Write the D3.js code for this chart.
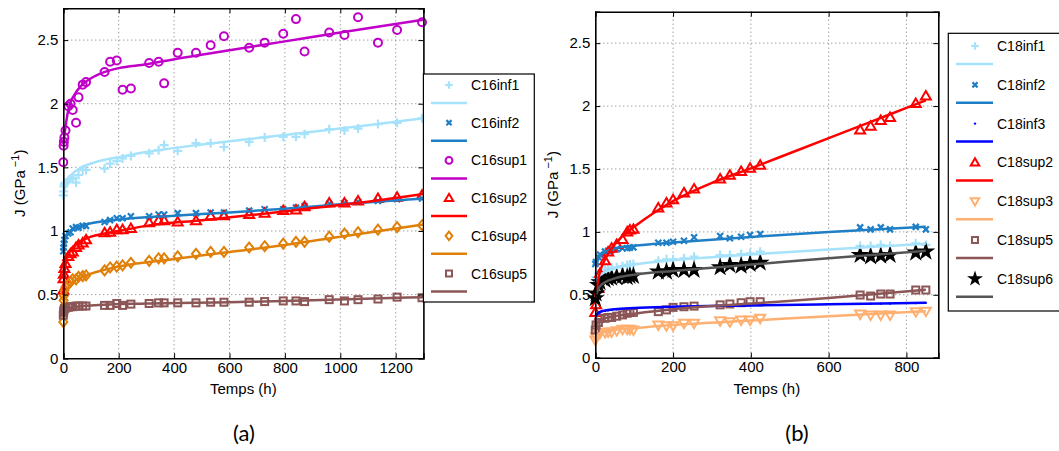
<!DOCTYPE html>
<html><head><meta charset="utf-8">
<script src="https://cdn.jsdelivr.net/npm/d3@7"></script>
<style>body{margin:0;background:#fff}svg{display:block}text{font-family:"Liberation Sans",Arial,sans-serif}</style>
</head><body><svg id="c" width="1059" height="451"></svg>
<script>
// ---------- data : panel (a) ----------
const timesA = [0,1,2,4,8,18,26,34,46,55,70,82,149,169,193,214,244,310,344,364,413,479,532,580,671,727,794,840,871,960,1015,1064,1136,1205,1295];
const C16inf1 = [1.28,1.31,1.35,1.37,1.38,1.40,1.41,1.42,1.38,1.44,1.48,1.48,1.49,1.53,1.55,1.57,1.59,1.61,1.635,1.675,1.63,1.69,1.69,1.66,1.70,1.735,1.74,1.74,1.76,1.80,1.79,1.805,1.84,1.85,1.885];
const C16inf2 = [0.84,0.87,0.90,0.93,0.96,0.98,0.99,1.02,1.03,1.025,1.04,1.04,1.07,1.085,1.10,1.10,1.115,1.115,1.13,1.13,1.14,1.14,1.145,1.145,1.16,1.17,1.17,1.185,1.195,1.215,1.22,1.23,1.235,1.25,1.255];
const C16sup1 = [1.54,1.67,1.70,1.735,1.79,1.98,2.0,1.95,1.85,2.05,2.15,2.17,2.25,2.33,2.34,2.11,2.12,2.32,2.33,2.16,2.40,2.40,2.46,2.53,2.44,2.48,2.55,2.665,2.41,2.56,2.54,2.68,2.48,2.58,2.64];
const C16sup2 = [0.535,0.625,0.66,0.705,0.745,0.80,0.82,0.835,0.87,0.89,0.905,0.93,0.985,0.99,1.01,1.01,1.02,1.065,1.08,1.08,1.07,1.08,1.115,1.12,1.13,1.14,1.16,1.165,1.19,1.22,1.22,1.235,1.255,1.265,1.28];
const C16sup4 = [0.285,0.455,0.49,0.535,0.56,0.58,0.60,0.62,0.62,0.64,0.645,0.65,0.69,0.713,0.72,0.73,0.75,0.765,0.785,0.785,0.80,0.82,0.835,0.835,0.87,0.88,0.90,0.915,0.915,0.955,0.98,0.99,1.01,1.03,1.045];
const C16sup5 = [0.338,0.36,0.375,0.39,0.395,0.40,0.405,0.405,0.41,0.41,0.41,0.41,0.415,0.415,0.43,0.415,0.425,0.43,0.435,0.435,0.435,0.435,0.44,0.44,0.44,0.445,0.45,0.45,0.445,0.46,0.45,0.46,0.465,0.48,0.475];
// fitted curves
const fitC16inf1 = [[0,1.28],[10,1.37],[25,1.43],[50,1.48],[100,1.53],[150,1.56],[200,1.58],[300,1.62],[500,1.68],[700,1.73],[900,1.78],[1100,1.83],[1300,1.885]];
const fitC16inf2 = [[0,0.85],[5,0.92],[10,0.96],[25,1.0],[50,1.03],[100,1.06],[200,1.09],[400,1.12],[600,1.145],[800,1.175],[1000,1.21],[1300,1.255]];
const fitC16sup1 = [[0,1.68],[10,1.85],[20,1.97],[40,2.07],[60,2.13],[80,2.17],[100,2.2],[150,2.25],[200,2.28],[300,2.31],[400,2.35],[600,2.42],[800,2.49],[1000,2.56],[1300,2.66]];
const fitC16sup2 = [[0,0.5],[5,0.68],[10,0.76],[25,0.85],[50,0.9],[100,0.955],[150,0.98],[200,1.0],[300,1.04],[500,1.085],[700,1.13],[900,1.18],[1100,1.23],[1300,1.29]];
const fitC16sup4 = [[0,0.42],[5,0.48],[15,0.54],[30,0.59],[60,0.63],[100,0.665],[200,0.72],[400,0.78],[600,0.835],[800,0.89],[1000,0.955],[1300,1.05]];
const fitC16sup5 = [[0,0.34],[10,0.38],[30,0.4],[100,0.415],[300,0.43],[600,0.44],[900,0.455],[1300,0.48]];

// ---------- data : panel (b) ----------
const timesB = [0,2,8,12,25,33,42,55,70,82,89,98,162,183,200,228,254,321,346,375,398,424,681,708,734,758,824,850];
const C18inf1 = [0.618,0.64,0.67,0.68,0.70,0.71,0.715,0.718,0.729,0.737,0.74,0.745,0.771,0.782,0.782,0.79,0.803,0.816,0.816,0.824,0.83,0.843,0.888,0.888,0.896,0.888,0.909,0.896];
const C18inf2 = [0.745,0.76,0.80,0.82,0.843,0.85,0.855,0.862,0.87,0.87,0.875,0.877,0.914,0.914,0.922,0.93,0.957,0.967,0.95,0.962,0.975,0.983,1.036,1.02,1.036,1.02,1.04,1.02];
const C18inf3 = [0.33,0.34,0.355,0.36,0.372,0.376,0.38,0.384,0.388,0.39,0.392,0.394,0.402,0.404,0.405,0.407,0.409,0.413,0.414,0.415,0.416,0.417,0.428,0.429,0.43,0.431,0.434,0.436];
const C18sup2 = [0.36,0.42,0.55,0.67,0.77,0.84,0.87,0.90,0.94,1.0,1.015,1.02,1.19,1.23,1.255,1.31,1.34,1.42,1.45,1.48,1.505,1.53,1.81,1.84,1.885,1.91,2.02,2.08];
const C18sup3 = [0.14,0.167,0.19,0.195,0.2,0.205,0.205,0.215,0.226,0.226,0.226,0.22,0.26,0.254,0.254,0.273,0.273,0.294,0.285,0.3,0.3,0.313,0.347,0.34,0.34,0.34,0.366,0.37];
const C18sup5 = [0.22,0.26,0.28,0.313,0.313,0.32,0.32,0.33,0.34,0.353,0.36,0.36,0.366,0.38,0.40,0.405,0.41,0.42,0.427,0.437,0.445,0.445,0.498,0.49,0.506,0.506,0.538,0.538];
const C18sup6 = [0.472,0.51,0.578,0.60,0.618,0.631,0.635,0.64,0.65,0.64,0.65,0.65,0.684,0.684,0.697,0.697,0.697,0.718,0.737,0.73,0.745,0.755,0.816,0.805,0.81,0.816,0.835,0.843];
const fitC18inf1 = [[0,0.6],[10,0.65],[25,0.68],[50,0.71],[100,0.74],[200,0.775],[400,0.82],[600,0.86],[850,0.905]];
const fitC18inf2 = [[0,0.75],[10,0.8],[25,0.84],[50,0.87],[100,0.89],[200,0.915],[400,0.96],[600,1.0],[850,1.04]];
const fitC18inf3 = [[0,0.33],[10,0.36],[25,0.375],[50,0.385],[100,0.395],[200,0.405],[400,0.415],[600,0.425],[850,0.437]];
const fitC18sup2 = [[0,0.48],[10,0.66],[25,0.78],[50,0.9],[75,0.98],[100,1.04],[150,1.15],[200,1.245],[300,1.39],[400,1.505],[500,1.625],[600,1.745],[700,1.865],[800,1.985],[850,2.045]];
const fitC18sup3 = [[0,0.14],[5,0.18],[15,0.2],[50,0.22],[100,0.235],[200,0.26],[400,0.295],[600,0.33],[850,0.37]];
const fitC18sup5 = [[0,0.2],[5,0.27],[15,0.3],[50,0.33],[100,0.35],[200,0.385],[400,0.43],[600,0.475],[850,0.54]];
const fitC18sup6 = [[0,0.48],[10,0.56],[25,0.6],[50,0.63],[100,0.66],[200,0.69],[300,0.715],[400,0.74],[600,0.79],[850,0.85]];

const yTicks = [0,0.5,1,1.5,2,2.5];
const xTicksA = [0,200,400,600,800,1000,1200];
const xTicksB = [0,200,400,600,800];

const seriesA = [
  {name:"C16inf1", vals:C16inf1, fit:fitC16inf1, color:"#a6e3fb", line:"#a6e3fb", mk:"plus"},
  {name:"C16inf2", vals:C16inf2, fit:fitC16inf2, color:"#1f7fc6", line:"#1f7fc6", mk:"x"},
  {name:"C16sup1", vals:C16sup1, fit:fitC16sup1, color:"#c000c8", line:"#c000c8", mk:"circle"},
  {name:"C16sup2", vals:C16sup2, fit:fitC16sup2, color:"#ff0000", line:"#ff0000", mk:"tri"},
  {name:"C16sup4", vals:C16sup4, fit:fitC16sup4, color:"#e08008", line:"#e08008", mk:"diamond"},
  {name:"C16sup5", vals:C16sup5, fit:fitC16sup5, color:"#8c5656", line:"#8c5656", mk:"square"}
];
const seriesB = [
  {name:"C18inf1", vals:C18inf1, fit:fitC18inf1, color:"#a6e3fb", line:"#a6e3fb", mk:"plus"},
  {name:"C18inf2", vals:C18inf2, fit:fitC18inf2, color:"#1f7fc6", line:"#1f7fc6", mk:"x"},
  {name:"C18inf3", vals:C18inf3, fit:fitC18inf3, color:"#0000ff", line:"#0000ff", mk:"dot"},
  {name:"C18sup2", vals:C18sup2, fit:fitC18sup2, color:"#ff0000", line:"#ff0000", mk:"tri"},
  {name:"C18sup3", vals:C18sup3, fit:fitC18sup3, color:"#ffb070", line:"#ffb070", mk:"trid"},
  {name:"C18sup5", vals:C18sup5, fit:fitC18sup5, color:"#8c5656", line:"#8c5656", mk:"square"},
  {name:"C18sup6", vals:C18sup6, fit:fitC18sup6, color:"#000000", line:"#555555", mk:"star"}
];

const svg = d3.select("#c");

function marker(g, type, x, y, color, scale){
  const s = scale || 1;
  if(type==="plus"){
    g.append("path").attr("d",`M${x-4.5*s},${y}H${x+4.5*s}M${x},${y-4.5*s}V${y+4.5*s}`).attr("stroke",color).attr("stroke-width",2.2).attr("fill","none");
  } else if(type==="x"){
    g.append("path").attr("d",`M${x-3*s},${y-3*s}L${x+3*s},${y+3*s}M${x-3*s},${y+3*s}L${x+3*s},${y-3*s}`).attr("stroke",color).attr("stroke-width",2.2).attr("fill","none");
  } else if(type==="circle"){
    g.append("circle").attr("cx",x).attr("cy",y).attr("r",4*s).attr("stroke",color).attr("stroke-width",2).attr("fill","none");
  } else if(type==="tri"){
    g.append("path").attr("d",`M${x},${y-5*s}L${x+5*s},${y+3.5*s}L${x-5*s},${y+3.5*s}Z`).attr("stroke",color).attr("stroke-width",2).attr("fill","none");
  } else if(type==="trid"){
    g.append("path").attr("d",`M${x},${y+5*s}L${x+5*s},${y-3.5*s}L${x-5*s},${y-3.5*s}Z`).attr("stroke",color).attr("stroke-width",2).attr("fill","none");
  } else if(type==="diamond"){
    g.append("path").attr("d",`M${x},${y-5*s}L${x+4*s},${y}L${x},${y+5*s}L${x-4*s},${y}Z`).attr("stroke",color).attr("stroke-width",2).attr("fill","none");
  } else if(type==="square"){
    g.append("rect").attr("x",x-3.5*s).attr("y",y-3.5*s).attr("width",7*s).attr("height",7*s).attr("stroke",color).attr("stroke-width",2).attr("fill","none");
  } else if(type==="dot"){
    g.append("circle").attr("cx",x).attr("cy",y).attr("r",1.2).attr("fill",color);
  } else if(type==="star"){
    g.append("path").attr("d",d3.symbol(d3.symbolStar, 110*s*s)()).attr("transform",`translate(${x},${y})`).attr("fill",color);
  }
}

function panel(opt){
  const {left,right,top,bottom,xmax,times,series,xTicks,ylabX,legend} = opt;
  const x = d3.scaleLinear().domain([0,xmax]).range([left,right]);
  const y = d3.scaleLinear().domain([0,2.75]).range([bottom,top]);
  const g = svg.append("g");
  // grid
  g.selectAll(".gx").data(xTicks.filter(d=>d>0)).enter().append("line")
    .attr("x1",d=>x(d)).attr("x2",d=>x(d)).attr("y1",top).attr("y2",bottom)
    .attr("stroke","#777").attr("stroke-width",1).attr("stroke-dasharray","1,3");
  g.selectAll(".gy").data(yTicks.filter(d=>d>0)).enter().append("line")
    .attr("x1",left).attr("x2",right).attr("y1",d=>y(d)).attr("y2",d=>y(d))
    .attr("stroke","#777").attr("stroke-width",1).attr("stroke-dasharray","1,3");
  // data
  const clip = "clip"+Math.round(left);
  svg.append("clipPath").attr("id",clip).append("rect").attr("x",left-8).attr("y",top-8).attr("width",right-left+16).attr("height",bottom-top+16);
  const dg = g.append("g").attr("clip-path",`url(#${clip})`);
  const lineGen = d3.line().x(d=>x(d[0])).y(d=>y(d[1])).curve(d3.curveMonotoneX);
  series.forEach(s=>{
    const mg = dg.append("g");
    times.forEach((t,i)=>marker(mg,s.mk,x(t),y(s.vals[i]),s.color));
  });
  series.forEach(s=>{
    dg.append("path").datum(s.fit).attr("d",lineGen).attr("fill","none").attr("stroke",s.line).attr("stroke-width",2.5);
  });
  // axes
  const ax = d3.axisBottom(x).tickValues(xTicks).tickSize(-5).tickPadding(4).tickFormat(d3.format("d"));
  const axT = d3.axisTop(x).tickValues(xTicks).tickSize(-5).tickFormat("");
  const ay = d3.axisLeft(y).tickValues(yTicks).tickSize(-5).tickPadding(5).tickFormat(d=>String(d));
  const ayR = d3.axisRight(y).tickValues(yTicks).tickSize(-5).tickFormat("");
  [ [ax,`translate(0,${bottom})`],[axT,`translate(0,${top})`],[ay,`translate(${left},0)`],[ayR,`translate(${right},0)`] ].forEach(([a,tr])=>{
    const gg = g.append("g").attr("transform",tr).call(a);
    gg.select(".domain").attr("stroke","#000").attr("stroke-width",1.6);
    gg.selectAll(".tick line").attr("stroke","#000");
    gg.selectAll("text").attr("font-size",15).attr("fill","#000").attr("font-family","Liberation Sans, Arial, sans-serif");
  });
  // labels
  g.append("text").attr("x",(left+right)/2).attr("y",bottom+36).attr("text-anchor","middle").attr("font-size",15).text("Temps (h)");
  const yl = g.append("text").attr("transform",`translate(${ylabX},${(top+bottom)/2}) rotate(-90)`).attr("text-anchor","middle").attr("font-size",15);
  yl.append("tspan").text("J (GPa");
  yl.append("tspan").attr("dy",-6).attr("font-size",11).text(" \u22121");
  yl.append("tspan").attr("dy",6).text(")");
  // legend
  const L = legend;
  const lg = svg.append("g");
  lg.append("rect").attr("x",L.x0).attr("y",L.y0).attr("width",L.x1-L.x0).attr("height",L.y1-L.y0).attr("fill","#fff").attr("stroke","#000").attr("stroke-width",1.2);
  series.forEach((s,i)=>{
    const my = L.my + L.step*i;
    marker(lg,s.mk,L.mx,my,s.color,0.85);
    lg.append("line").attr("x1",L.lx0).attr("x2",L.lx1).attr("y1",my+L.ldy).attr("y2",my+L.ldy).attr("stroke",s.line).attr("stroke-width",2.5);
    lg.append("text").attr("x",L.tx).attr("y",my+5).attr("font-size",14).text(s.name);
  });
}

panel({left:63.3,right:423.4,top:8.3,bottom:358.2,xmax:1300,times:timesA,series:seriesA,xTicks:xTicksA,ylabX:25,
  legend:{x0:423.4,x1:534.3,y0:74,y1:302,mx:449,my:85,step:37.7,lx0:431,lx1:467,ldy:18,tx:471}});
panel({left:595.3,right:938.3,top:11.7,bottom:357.7,xmax:882,times:timesB,series:seriesB,xTicks:xTicksB,ylabX:558,
  legend:{x0:948.3,x1:1062,y0:33.3,y1:311,mx:975,my:46,step:38.8,lx0:956,lx1:993,ldy:18,tx:997}});

svg.append("text").attr("x",244).attr("y",441).attr("text-anchor","middle").attr("font-size",22).style("font-family","Lato, 'DejaVu Sans', sans-serif").text("(a)");
svg.append("text").attr("x",797).attr("y",441).attr("text-anchor","middle").attr("font-size",22).style("font-family","Lato, 'DejaVu Sans', sans-serif").text("(b)");
</script></body></html>
